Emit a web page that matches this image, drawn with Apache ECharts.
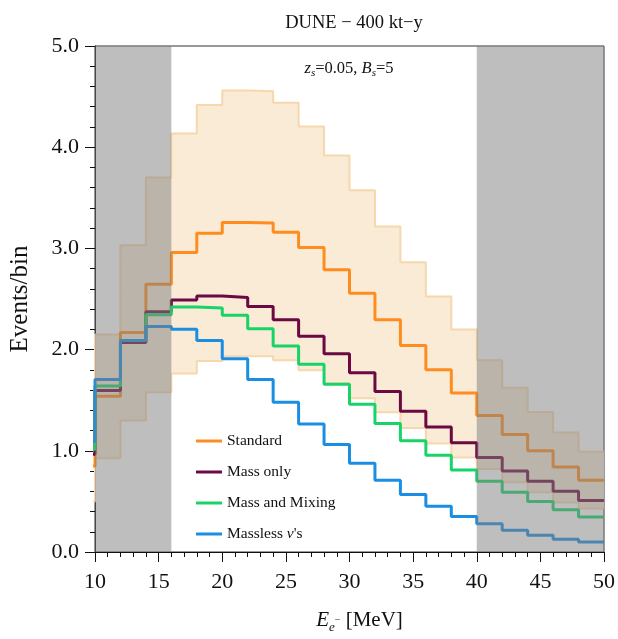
<!DOCTYPE html>
<html>
<head>
<meta charset="utf-8">
<script src="https://cdn.jsdelivr.net/npm/echarts@6/dist/echarts.min.js"></script>
<style>html,body{margin:0;padding:0;background:#fff;}#c{width:618px;height:639px;}</style>
</head>
<body>
<div id="c"></div>
<script>
// bin left edges (2 MeV bins), last edge closes the histogram
var binEdges = [8,10,12,14,16,18,20,22,24,26,28,30,32,34,36,38,40,42,44,46,48,50];
var standard   = [0.85,1.54,2.17,2.645,2.96,3.15,3.255,3.25,3.16,3.01,2.79,2.557,2.296,2.04,1.80,1.57,1.35,1.16,1.00,0.84,0.71];
var massOnly   = [0.965,1.595,2.07,2.375,2.49,2.53,2.515,2.427,2.296,2.133,1.96,1.771,1.585,1.39,1.236,1.08,0.933,0.80,0.698,0.60,0.509];
var massMixing = [1.015,1.64,2.09,2.345,2.42,2.41,2.34,2.205,2.035,1.856,1.657,1.46,1.27,1.10,0.956,0.81,0.698,0.59,0.50,0.417,0.345];
var massless   = [1.095,1.705,2.09,2.228,2.20,2.09,1.91,1.705,1.48,1.265,1.063,0.877,0.71,0.567,0.453,0.352,0.28,0.215,0.166,0.127,0.098];
var bandUpper  = [1.0,2.15,3.03,3.70,4.136,4.416,4.56,4.553,4.44,4.205,3.917,3.575,3.216,2.864,2.524,2.199,1.895,1.624,1.383,1.18,0.99];
var bandLower  = [0.5,0.926,1.30,1.578,1.764,1.888,1.934,1.934,1.895,1.797,1.667,1.52,1.38,1.226,1.073,0.933,0.82,0.69,0.59,0.49,0.43];
var greyRegions = [[10,16],[40,50]];
var seriesNames = ["Standard","Mass only","Mass and Mixing","Massless ν's"];

function steps(vals){
  var d = vals.map(function(v,i){return [binEdges[i], v];});
  d.push([binEdges[binEdges.length-1], vals[vals.length-1]]);
  return d;
}
var bandBins = bandLower.map(function(lo,i){return [binEdges[i], binEdges[i+1], lo, bandUpper[i]];});

var FONT = "'Liberation Serif', 'DejaVu Serif', serif";
var colors = ['#ff8c1e','#6b0a42','#18d468','#1a8ee3'];
var bandEdge = '#f5d8ad';
var bandFill = '#f9ebd6';

var chart = echarts.init(document.getElementById('c'), null, {renderer:'canvas'});
var lineData = [standard, massOnly, massMixing, massless];

var series = [
  {type:'custom', name:'bandFill', z:1, silent:true, data:bandBins, clip:true,
   renderItem:function(params, api){
     var p0 = api.coord([api.value(0), api.value(3)]);
     var p1 = api.coord([api.value(1), api.value(2)]);
     return {type:'rect', shape:{x:p0[0]-0.4, y:p0[1], width:p1[0]-p0[0]+0.8, height:p1[1]-p0[1]},
       style:{fill:bandFill}};
   }},
  {type:'line', name:'bandLowerEdge', data:steps(bandLower), step:'end', symbol:'none', z:1,
   lineStyle:{color:bandEdge, width:2}, silent:true},
  {type:'line', name:'bandUpperEdge', data:steps(bandUpper), step:'end', symbol:'none', z:1,
   lineStyle:{color:bandEdge, width:2}, silent:true}
];
lineData.forEach(function(d,i){
  series.push({type:'line', name:seriesNames[i], data:steps(d), step:'end', symbol:'none', z:2,
    color:colors[i], lineStyle:{color:colors[i], width:3}});
});
series.push({
  type:'custom', name:'grey', z:3, silent:true, data:greyRegions,
  renderItem:function(params, api){
    var p0 = api.coord([api.value(0), 5]);
    var p1 = api.coord([api.value(1), 0]);
    return {type:'rect', shape:{x:p0[0], y:p0[1], width:p1[0]-p0[0], height:p1[1]-p0[1]},
      style:{fill:'rgba(125,125,125,0.5)'}};
  }
});

var option = {
  animation:false,
  backgroundColor:'#fff',
  title:{text:'DUNE − 400 kt−y', left:349, textAlign:'center', top:9,
    textStyle:{fontFamily:FONT, fontSize:18.5, fontWeight:'normal', color:'#111'}},
  grid:{left:93, right:13, top:46, bottom:81, show:true, borderColor:'#333', borderWidth:1, backgroundColor:'transparent'},
  legend:{
    data:seriesNames, orient:'vertical', left:191, top:428, itemGap:15,
    itemWidth:26, itemHeight:3, icon:'rect', itemStyle:{borderWidth:0},
    formatter:function(name){
      if(name === "Massless ν's") return "{n|Massless }{i|ν}{n|'s}";
      return '{n|' + name + '}';
    },
    textStyle:{fontFamily:FONT, fontSize:15.5, color:'#111',
      rich:{n:{fontFamily:FONT, fontSize:15.5, color:'#111'}, i:{fontFamily:FONT, fontSize:15.5, fontStyle:'italic', color:'#111'}}}
  },
  xAxis:{
    type:'value', min:10, max:50, interval:5,
    axisLine:{show:true, lineStyle:{color:'#111', width:1}},
    axisTick:{show:true, length:10, lineStyle:{color:'#111'}},
    minorTick:{show:true, splitNumber:5, length:5, lineStyle:{color:'#111'}},
    splitLine:{show:false},
    axisLabel:{fontFamily:FONT, fontSize:22, color:'#111', margin:19},
    name:'{i|E}{s|e}{m|−}{n| [MeV]}', nameLocation:'middle', nameGap:54,
    nameTextStyle:{fontFamily:FONT, fontSize:20, color:'#111', padding:[0,0,0,20],
      rich:{
        i:{fontFamily:FONT, fontSize:21, fontStyle:'italic', lineHeight:28, color:'#111'},
        s:{fontFamily:FONT, fontSize:13, fontStyle:'italic', lineHeight:14, verticalAlign:'bottom', color:'#111'},
        m:{fontFamily:FONT, fontSize:10, lineHeight:28, verticalAlign:'middle', color:'#111'},
        n:{fontFamily:FONT, fontSize:21, lineHeight:28, color:'#111'}
      }}
  },
  yAxis:{
    type:'value', min:0, max:5, interval:1,
    axisLine:{show:true, lineStyle:{color:'#111', width:1}},
    axisTick:{show:true, length:10, lineStyle:{color:'#111'}},
    minorTick:{show:true, splitNumber:5, length:5, lineStyle:{color:'#111'}},
    splitLine:{show:false},
    axisLabel:{fontFamily:FONT, fontSize:22, color:'#111', margin:16, formatter:function(v){return v.toFixed(1);}},
    name:'Events/bin', nameLocation:'middle', nameGap:62,
    nameTextStyle:{fontFamily:FONT, fontSize:25, color:'#111'}
  },
  graphic:[{
    type:'text', x:349, y:58, z:100,
    style:{
      text:'{i|z}{s|s}{n|=0.05, }{i|B}{s|s}{n|=5}', textAlign:'center',
      rich:{
        i:{fontFamily:FONT, fontSize:16.5, fontStyle:'italic', lineHeight:21, fill:'#111'},
        n:{fontFamily:FONT, fontSize:16.5, lineHeight:21, fill:'#111'},
        s:{fontFamily:FONT, fontSize:11, fontStyle:'italic', lineHeight:12, verticalAlign:'bottom', fill:'#111'}
      }
    }
  }],
  series:series
};
chart.setOption(option);
</script>
</body>
</html>
